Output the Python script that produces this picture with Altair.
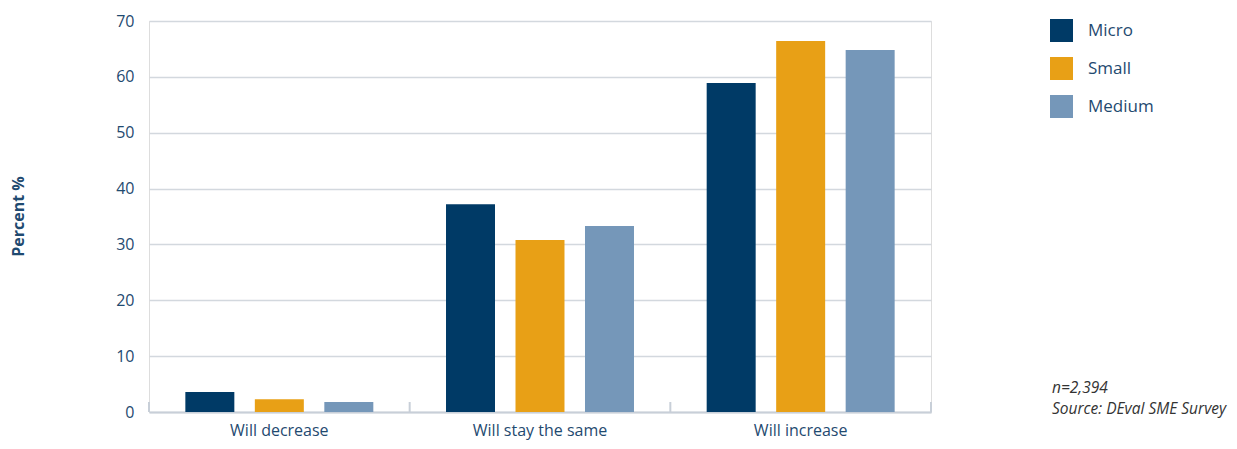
import altair as alt
import pandas as pd

groups = ["Will decrease", "Will stay the same", "Will increase"]
sizes = ["Micro", "Small", "Medium"]
micro = [3.6, 37.2, 58.9]
small = [2.3, 30.8, 66.4]
medium = [1.8, 33.3, 64.8]
colors = ["#003a66", "#e8a016", "#7597b9"]
note_lines = ["n=2,394", "Source: DEval SME Survey"]

rows = []
for i, g in enumerate(groups):
    for s, vals in zip(sizes, [micro, small, medium]):
        rows.append({"group": g, "size": s, "value": vals[i]})
df = pd.DataFrame(rows)
gdf = pd.DataFrame({"group": groups})

W, H = 782, 391
TEXT = "#1f4a70"
FONT = "Open Sans"

xscale = alt.Scale(domain=groups, paddingInner=0, paddingOuter=0)

bars = alt.Chart(df).mark_bar().encode(
    x=alt.X("group:N", scale=xscale, sort=groups, title=None,
            axis=alt.Axis(labelAngle=0, labelFontSize=16, labelColor=TEXT, labelFont=FONT,
                          labelPadding=10, ticks=False, domainColor="#c8cfd8", domainWidth=2)),
    xOffset=alt.XOffset("size:N", sort=sizes,
                        scale=alt.Scale(domain=sizes, paddingInner=0.295, paddingOuter=0.523)),
    y=alt.Y("value:Q", scale=alt.Scale(domain=[0, 70]), title="Percent %",
            axis=alt.Axis(values=[0, 10, 20, 30, 40, 50, 60, 70], labelFontSize=16, labelColor=TEXT,
                          labelFont=FONT, labelPadding=15, ticks=False, domain=False,
                          gridColor="#d3d8de", gridWidth=1.5,
                          titleFont=FONT, titleFontSize=16, titleFontWeight="bold", titleColor=TEXT,
                          titleX=-123, titleY=195, titleAngle=-90)),
    color=alt.Color("size:N", sort=sizes, scale=alt.Scale(domain=sizes, range=colors), title=None,
                    legend=alt.Legend(orient="none", legendX=901, legendY=-2, symbolType="square",
                                      symbolSize=529, symbolStrokeWidth=0, symbolOpacity=1,
                                      labelFontSize=17, labelFont=FONT, labelColor=TEXT,
                                      labelOffset=15, rowPadding=15)),
)

seps = alt.Chart(gdf).mark_rule(color="#c8cfd8", strokeWidth=2).encode(
    x=alt.X("group:N", scale=xscale, sort=groups, bandPosition=0),
    y=alt.value(H - 10), y2=alt.value(H),
)
sep_end = alt.Chart(gdf.head(1)).mark_rule(color="#c8cfd8", strokeWidth=2).encode(
    x=alt.value(W), y=alt.value(H - 10), y2=alt.value(H),
)

note = alt.Chart(gdf.head(1)).mark_text(
    align="left", baseline="alphabetic", fontStyle="italic", fontSize=15.5, font=FONT,
    color="#333333", lineHeight=21,
).encode(x=alt.value(903), y=alt.value(372), text=alt.value(note_lines))

chart = alt.layer(bars, seps, sep_end, note).properties(
    width=W, height=H,
    autosize=alt.AutoSizeParams(type="none"),
    padding={"left": 141, "top": 13, "right": 298, "bottom": 29},
).configure_view(stroke=None).configure(font=FONT)

chart.save("out.html", embed_options={"renderer": "svg", "actions": False})
